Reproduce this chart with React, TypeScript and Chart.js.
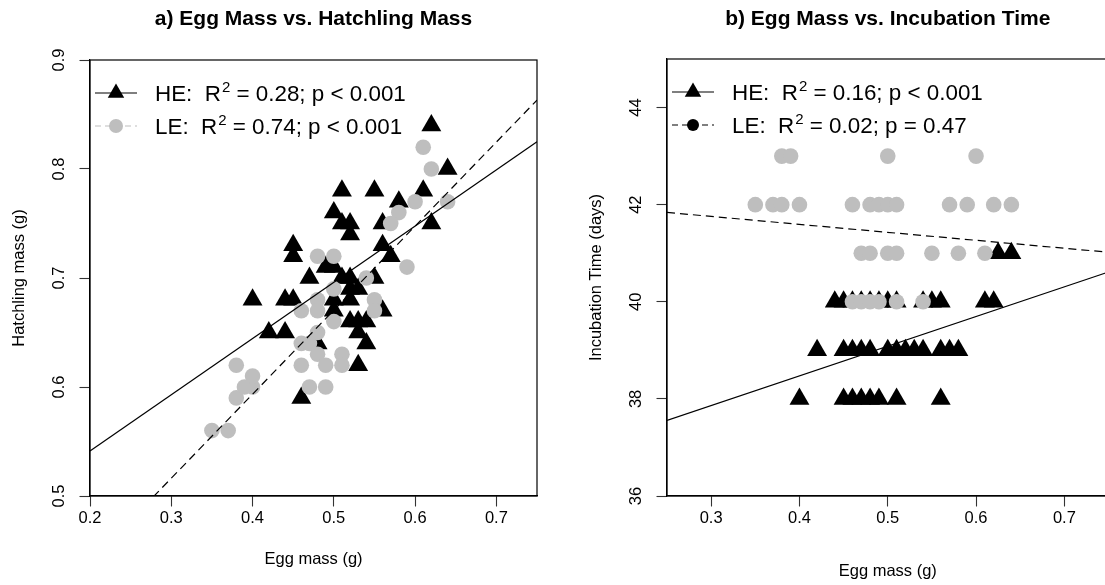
import React, { useEffect, useRef } from 'react';
import { Chart, registerables } from 'chart.js';

Chart.register(...registerables);

const FONT = '"Liberation Sans", Arial, Helvetica, sans-serif';
const HE_COLOR = '#000000';
const LE_COLOR = '#bebebe';

// ---------- a) Egg mass vs. hatchling mass ----------
const heEggA = [0.62, 0.64, 0.51, 0.55, 0.61, 0.58, 0.50, 0.51, 0.52, 0.52, 0.56, 0.62, 0.56, 0.57, 0.45, 0.45, 0.55, 0.49, 0.50, 0.52, 0.47, 0.40, 0.44, 0.45, 0.52, 0.53, 0.50, 0.50, 0.52, 0.56, 0.52, 0.53, 0.54, 0.42, 0.44, 0.53, 0.54, 0.48, 0.53, 0.46, 0.51];
const heHatchA = [0.84, 0.80, 0.78, 0.78, 0.78, 0.77, 0.76, 0.75, 0.75, 0.74, 0.75, 0.75, 0.73, 0.72, 0.73, 0.72, 0.70, 0.71, 0.71, 0.70, 0.70, 0.68, 0.68, 0.68, 0.69, 0.69, 0.68, 0.67, 0.68, 0.67, 0.66, 0.66, 0.66, 0.65, 0.65, 0.65, 0.64, 0.64, 0.62, 0.59, 0.70];
const leEggA = [0.35, 0.37, 0.38, 0.38, 0.39, 0.40, 0.40, 0.46, 0.47, 0.49, 0.48, 0.49, 0.51, 0.51, 0.46, 0.47, 0.48, 0.48, 0.48, 0.46, 0.50, 0.50, 0.55, 0.55, 0.54, 0.61, 0.62, 0.64, 0.60, 0.58, 0.57, 0.48, 0.50, 0.59];
const leHatchA = [0.56, 0.56, 0.59, 0.62, 0.60, 0.60, 0.61, 0.62, 0.60, 0.60, 0.63, 0.62, 0.63, 0.62, 0.64, 0.64, 0.65, 0.68, 0.67, 0.67, 0.69, 0.66, 0.68, 0.67, 0.70, 0.82, 0.80, 0.77, 0.77, 0.76, 0.75, 0.72, 0.72, 0.71];
// fitted lines: [intercept, slope]
const heFitA = [0.438, 0.516];
const leFitA = [0.285, 0.771];
const xRangeA = [0.2, 0.75];
const yRangeA = [0.5, 0.9];
const xTicksA = [0.2, 0.3, 0.4, 0.5, 0.6, 0.7];
const yTicksA = [0.5, 0.6, 0.7, 0.8, 0.9];
const legendTagsA = ['HE:', 'LE:'];
const legendR2A = ['0.28', '0.74'];
const legendPA = ['p < 0.001', 'p < 0.001'];

// ---------- b) Egg mass vs. incubation time ----------
const heEggB = [0.625, 0.64,
  0.44, 0.45, 0.46, 0.47, 0.48, 0.49, 0.50, 0.51, 0.54, 0.55, 0.56, 0.61, 0.62,
  0.42, 0.45, 0.46, 0.47, 0.48, 0.50, 0.51, 0.52, 0.53, 0.54, 0.56, 0.57, 0.58,
  0.40, 0.45, 0.46, 0.47, 0.48, 0.49, 0.51, 0.56];
const heIncB = [41, 41,
  40, 40, 40, 40, 40, 40, 40, 40, 40, 40, 40, 40, 40,
  39, 39, 39, 39, 39, 39, 39, 39, 39, 39, 39, 39, 39,
  38, 38, 38, 38, 38, 38, 38, 38];
const leEggB = [0.38, 0.39, 0.50, 0.60,
  0.35, 0.37, 0.38, 0.40, 0.46, 0.48, 0.49, 0.50, 0.51, 0.57, 0.59, 0.62, 0.64,
  0.47, 0.48, 0.50, 0.51, 0.55, 0.58, 0.61,
  0.46, 0.47, 0.48, 0.49, 0.51, 0.54];
const leIncB = [43, 43, 43, 43,
  42, 42, 42, 42, 42, 42, 42, 42, 42, 42, 42, 42, 42,
  41, 41, 41, 41, 41, 41, 41,
  40, 40, 40, 40, 40, 40];
const heFitB = [36.03, 6.11];
const leFitB = [42.25, -1.64];
const xRangeB = [0.25, 0.75];
const yRangeB = [36, 45];
const xTicksB = [0.3, 0.4, 0.5, 0.6, 0.7];
const yTicksB = [36, 38, 40, 42, 44];
const legendTagsB = ['HE:', 'LE:'];
const legendR2B = ['0.16', '0.02'];
const legendPB = ['p < 0.001', 'p = 0.47'];

const zip = (xs: number[], ys: number[]) => xs.map((x, i) => ({ x, y: ys[i] }));
const fitLine = (fit: number[], range: number[]) => range.map((x) => ({ x, y: fit[0] + fit[1] * x }));

type LegendRow = { tag: string; r2: string; p: string; color: string; dash: number[]; marker: 'triangle' | 'circle'; size: number };

function drawMarker(ctx: CanvasRenderingContext2D, kind: string, cx: number, cy: number, r: number) {
  ctx.beginPath();
  if (kind === 'triangle') {
    ctx.moveTo(cx, cy - r);
    ctx.lineTo(cx + r * 0.866, cy + r / 2);
    ctx.lineTo(cx - r * 0.866, cy + r / 2);
    ctx.closePath();
  } else {
    ctx.arc(cx, cy, r, 0, Math.PI * 2);
  }
  ctx.fill();
}

// frame, panel title and R-squared legend
const panelDecor = {
  id: 'panelDecor',
  afterDraw(chart: any, _args: any, opts: any) {
    const { ctx, chartArea: a } = chart;
    ctx.save();
    ctx.strokeStyle = '#000';
    ctx.lineWidth = 1.2;
    ctx.setLineDash([]);
    ctx.strokeRect(a.left, a.top, a.right - a.left, a.bottom - a.top);

    ctx.fillStyle = '#000';
    ctx.font = `bold 21px ${FONT}`;
    ctx.textAlign = 'center';
    ctx.textBaseline = 'middle';
    ctx.fillText(opts.title, (a.left + a.right) / 2, opts.titleY);

    const rows: LegendRow[] = opts.rows;
    rows.forEach((row, i) => {
      const y = opts.legendY + i * opts.legendGap;
      const x0 = a.left + 5;
      const x1 = a.left + 47;
      ctx.strokeStyle = row.color;
      ctx.fillStyle = row.color;
      ctx.lineWidth = 1.2;
      ctx.setLineDash(row.dash);
      ctx.beginPath();
      ctx.moveTo(x0, y);
      ctx.lineTo(x1, y);
      ctx.stroke();
      ctx.setLineDash([]);
      drawMarker(ctx, row.marker, (x0 + x1) / 2, y, row.size);

      ctx.fillStyle = '#000';
      ctx.textAlign = 'left';
      ctx.textBaseline = 'alphabetic';
      const base = y + 8;
      let tx = a.left + 65;
      ctx.font = `22.4px ${FONT}`;
      const head = `${row.tag}  R`;
      ctx.fillText(head, tx, base);
      tx += ctx.measureText(head).width + 1;
      ctx.font = `15px ${FONT}`;
      ctx.fillText('2', tx, base - 9.5);
      tx += ctx.measureText('2').width;
      ctx.font = `22.4px ${FONT}`;
      ctx.fillText(` = ${row.r2}; ${row.p}`, tx, base);
    });
    ctx.restore();
  },
};

function axisOptions(range: number[], ticks: number[], title: string, horizontal: boolean, geom: any) {
  return {
    type: 'linear',
    position: horizontal ? 'bottom' : 'left',
    min: range[0],
    max: range[1],
    afterBuildTicks: (scale: any) => {
      scale.ticks = ticks.map((value) => ({ value }));
    },
    afterFit: (scale: any) => {
      if (horizontal) scale.height = geom.size;
      else scale.width = geom.size;
    },
    grid: {
      drawOnChartArea: false,
      drawTicks: true,
      tickLength: 10.5,
      tickColor: '#333',
      tickWidth: 1.1,
    },
    border: { display: true, color: '#000', width: 1.2 },
    ticks: {
      color: '#000',
      font: { family: FONT, size: 16.5 },
      padding: geom.tickPad,
      minRotation: horizontal ? 0 : 90,
      maxRotation: horizontal ? 0 : 90,
      crossAlign: 'center',
      autoSkip: false,
      callback: (v: number) => String(v),
    },
    title: {
      display: true,
      text: title,
      color: '#000',
      font: { family: FONT, size: 16.5 },
      padding: horizontal ? { top: 0, bottom: geom.titlePad } : { top: geom.titlePad, bottom: 0 },
    },
  };
}

function buildConfig(p: any) {
  return {
    type: 'scatter',
    data: {
      datasets: [
        { data: fitLine(p.heFit, p.xRange), showLine: true, pointRadius: 0, borderColor: '#000', borderWidth: 1.2, borderDash: [] },
        { data: fitLine(p.leFit, p.xRange), showLine: true, pointRadius: 0, borderColor: '#000', borderWidth: 1.2, borderDash: [8, 5] },
        { data: zip(p.leX, p.leY), pointStyle: 'circle', pointRadius: 7.8, pointBackgroundColor: LE_COLOR, pointBorderColor: LE_COLOR, pointBorderWidth: 0 },
        { data: zip(p.heX, p.heY), pointStyle: 'triangle', pointRadius: 11.5, pointBackgroundColor: HE_COLOR, pointBorderColor: HE_COLOR, pointBorderWidth: 0 },
      ],
    },
    options: {
      responsive: false,
      animation: false,
      events: [],
      layout: { padding: p.padding },
      plugins: {
        legend: { display: false },
        tooltip: { enabled: false },
        title: { display: false },
        panelDecor: p.decor,
      },
      scales: {
        x: axisOptions(p.xRange, p.xTicks, 'Egg mass (g)', true, p.xGeom),
        y: axisOptions(p.yRange, p.yTicks, p.yTitle, false, p.yGeom),
      },
    },
    plugins: [panelDecor],
  };
}

function Panel({ left, width, spec }: { left: number; width: number; spec: any }) {
  const ref = useRef<HTMLCanvasElement | null>(null);
  useEffect(() => {
    if (!ref.current) return;
    const chart = new Chart(ref.current, buildConfig(spec) as any);
    return () => chart.destroy();
  }, [spec]);
  return (
    <canvas
      ref={ref}
      width={width}
      height={585}
      style={{ position: 'absolute', left, top: 0, width, height: 585 }}
    />
  );
}

const specA = {
  heX: heEggA, heY: heHatchA, leX: leEggA, leY: leHatchA,
  heFit: heFitA, leFit: leFitA,
  xRange: xRangeA, yRange: yRangeA, xTicks: xTicksA, yTicks: yTicksA,
  yTitle: 'Hatchling mass (g)',
  padding: { left: 0, right: 38, top: 60, bottom: 0 },
  xGeom: { size: 89, tickPad: 11.6, titlePad: 16.1 },
  yGeom: { size: 90, tickPad: 8.4, titlePad: 9.1 },
  decor: {
    title: 'a) Egg Mass vs. Hatchling Mass',
    titleY: 19,
    legendY: 93,
    legendGap: 33,
    rows: [
      { tag: legendTagsA[0], r2: legendR2A[0], p: legendPA[0], color: HE_COLOR, dash: [], marker: 'triangle', size: 9.5 },
      { tag: legendTagsA[1], r2: legendR2A[1], p: legendPA[1], color: LE_COLOR, dash: [6, 4], marker: 'circle', size: 7 },
    ],
  },
};

const specB = {
  heX: heEggB, heY: heIncB, leX: leEggB, leY: leIncB,
  heFit: heFitB, leFit: leFitB,
  xRange: xRangeB, yRange: yRangeB, xTicks: xTicksB, yTicks: yTicksB,
  yTitle: 'Incubation Time (days)',
  padding: { left: 0, right: 7, top: 59, bottom: 0 },
  xGeom: { size: 89, tickPad: 11.6, titlePad: 3.4 },
  yGeom: { size: 92, tickPad: 10.8, titlePad: 11.1 },
  decor: {
    title: 'b) Egg Mass vs. Incubation Time',
    titleY: 19,
    legendY: 92,
    legendGap: 33,
    rows: [
      { tag: legendTagsB[0], r2: legendR2B[0], p: legendPB[0], color: '#000', dash: [], marker: 'triangle', size: 9.5 },
      { tag: legendTagsB[1], r2: legendR2B[1], p: legendPB[1], color: '#000', dash: [6, 4], marker: 'circle', size: 6 },
    ],
  },
};

export default function App() {
  return (
    <div
      style={{
        position: 'fixed',
        left: 0,
        top: 0,
        width: 1105,
        height: 585,
        overflow: 'hidden',
        background: '#fff',
      }}
    >
      <Panel left={0} width={575} spec={specA} />
      <Panel left={575} width={545} spec={specB} />
    </div>
  );
}
